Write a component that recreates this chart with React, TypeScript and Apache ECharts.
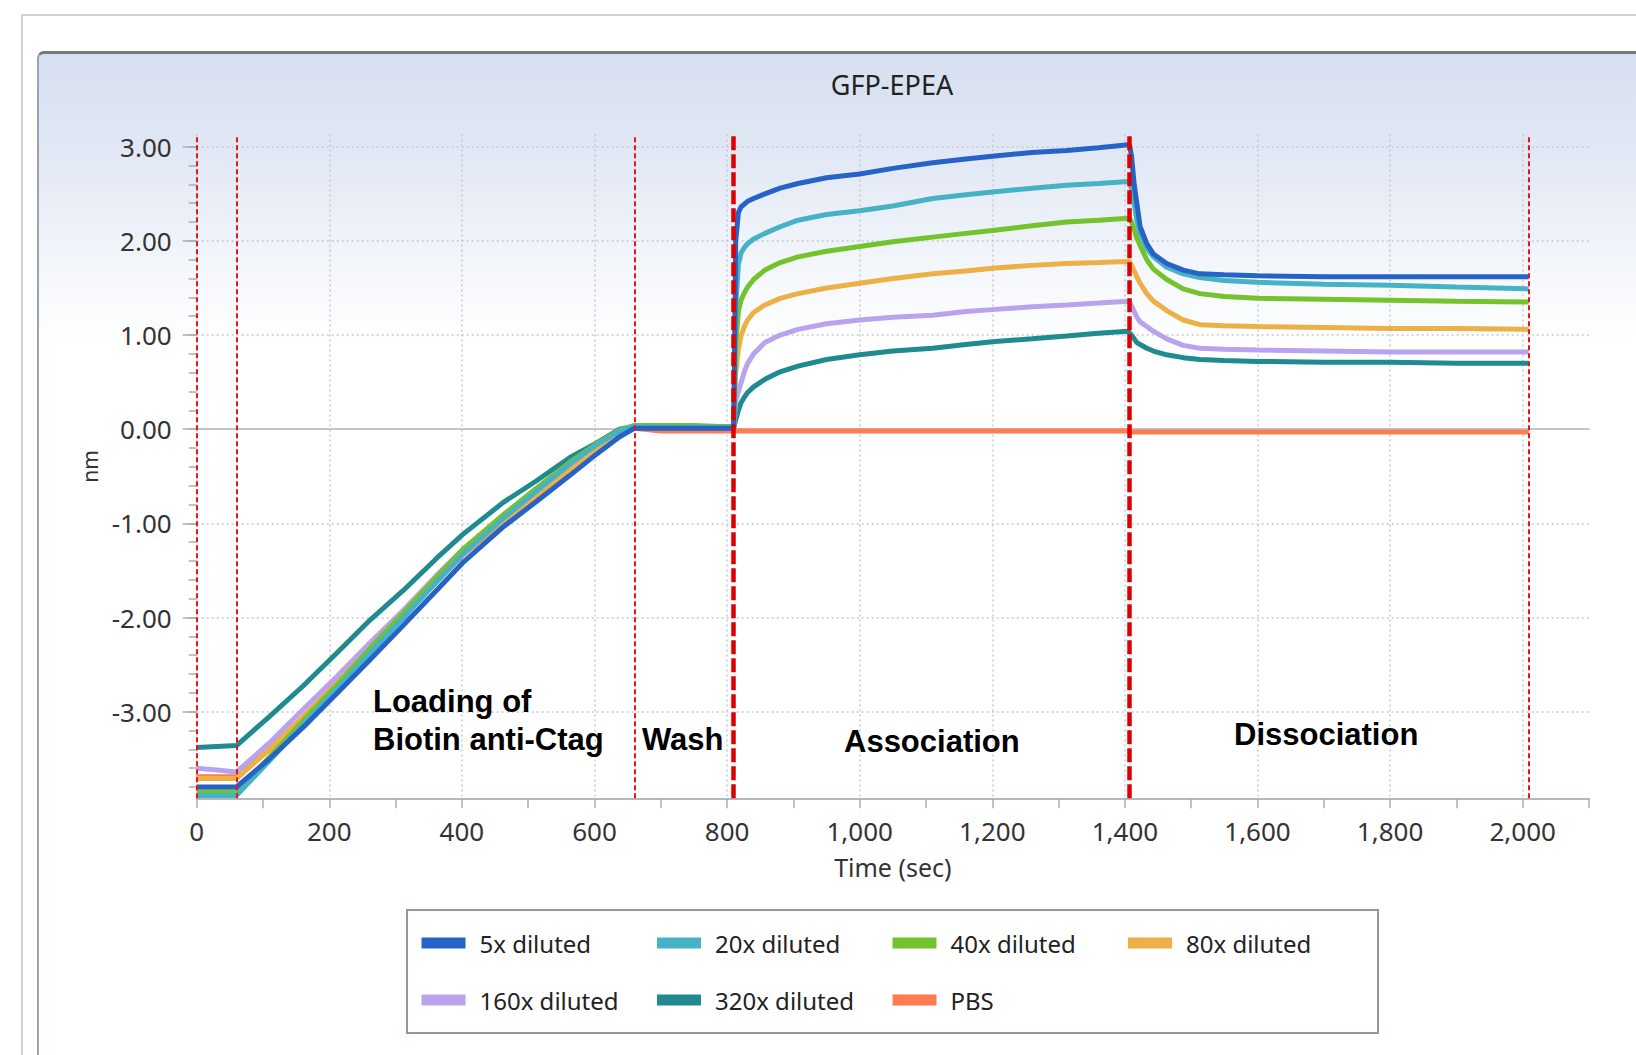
import React, { useEffect, useRef } from 'react';
import * as echarts from 'echarts';

// ---- Data ----
const seriesNames = ['5x diluted', '20x diluted', '40x diluted', '80x diluted', '160x diluted', '320x diluted', 'PBS'];
const seriesColors = ['#2563c6', '#46b2c6', '#74c32d', '#ecb046', '#b9a3ee', '#1f8a8f', '#ff7b52'];

// time (sec) sample points shared by every trace
const times = [
  0, 30, 60,
  110, 160, 211, 261, 312, 362, 401, 462, 512, 563, 602, 638, 660,
  700, 750, 790,
  810, 813, 817, 821, 826, 831, 840, 857, 880, 907, 950, 1000, 1050, 1110, 1160, 1200, 1260, 1312, 1360, 1405,
  1407, 1410, 1414, 1418, 1423, 1433, 1443, 1463, 1488, 1513, 1550, 1600, 1700, 1800, 1900, 2009,
];

const dil5x = [
  -3.80, -3.80, -3.80,
  -3.50, -3.17, -2.81, -2.45, -2.08, -1.71, -1.42, -1.04, -0.77, -0.49, -0.27, -0.08, 0.01,
  0.01, 0.01, 0.01,
  0.01, 2.00, 2.30, 2.36, 2.39, 2.42, 2.45, 2.50, 2.56, 2.61, 2.67, 2.71, 2.77, 2.83, 2.87, 2.90, 2.94, 2.96, 2.99, 3.02,
  3.02, 2.90, 2.60, 2.40, 2.15, 1.97, 1.86, 1.76, 1.69, 1.65, 1.64, 1.63, 1.62, 1.62, 1.62, 1.62,
];
const dil20x = [
  -3.89, -3.89, -3.89,
  -3.52, -3.14, -2.76, -2.38, -2.00, -1.62, -1.33, -0.95, -0.66, -0.37, -0.17, -0.02, 0.03,
  0.02, 0.02, 0.02,
  0.02, 1.30, 1.75, 1.87, 1.93, 1.97, 2.02, 2.08, 2.15, 2.22, 2.28, 2.32, 2.37, 2.45, 2.49, 2.52, 2.56, 2.59, 2.61, 2.63,
  2.63, 2.55, 2.40, 2.22, 2.08, 1.92, 1.83, 1.72, 1.65, 1.61, 1.58, 1.56, 1.54, 1.53, 1.51, 1.49,
];
const dil40x = [
  -3.85, -3.85, -3.85,
  -3.48, -3.10, -2.72, -2.33, -1.95, -1.57, -1.28, -0.91, -0.63, -0.35, -0.16, -0.01, 0.04,
  0.04, 0.04, 0.03,
  0.03, 0.90, 1.25, 1.37, 1.45, 1.51, 1.59, 1.69, 1.77, 1.83, 1.89, 1.94, 1.99, 2.04, 2.08, 2.11, 2.16, 2.20, 2.22, 2.24,
  2.24, 2.20, 2.12, 2.03, 1.95, 1.80, 1.70, 1.59, 1.49, 1.44, 1.41, 1.39, 1.38, 1.37, 1.36, 1.35,
];
const dil80x = [
  -3.71, -3.71, -3.71,
  -3.40, -3.06, -2.70, -2.34, -1.98, -1.61, -1.33, -0.97, -0.70, -0.43, -0.22, -0.04, 0.02,
  0.02, 0.02, 0.02,
  0.02, 0.60, 0.85, 0.99, 1.09, 1.16, 1.24, 1.32, 1.39, 1.44, 1.50, 1.55, 1.60, 1.65, 1.68, 1.71, 1.74, 1.76, 1.77, 1.78,
  1.78, 1.74, 1.68, 1.62, 1.55, 1.44, 1.36, 1.26, 1.16, 1.11, 1.10, 1.09, 1.08, 1.07, 1.07, 1.06,
];
const dil160x = [
  -3.60, -3.62, -3.64,
  -3.33, -2.98, -2.63, -2.27, -1.92, -1.55, -1.28, -0.93, -0.66, -0.40, -0.20, -0.03, 0.02,
  0.02, 0.02, 0.02,
  0.02, 0.30, 0.40, 0.49, 0.61, 0.70, 0.80, 0.92, 1.00, 1.06, 1.12, 1.16, 1.19, 1.21, 1.25, 1.27, 1.30, 1.32, 1.34, 1.36,
  1.35, 1.31, 1.25, 1.19, 1.14, 1.09, 1.04, 0.96, 0.89, 0.86, 0.85, 0.84, 0.83, 0.82, 0.82, 0.82,
];
const dil320x = [
  -3.38, -3.37, -3.36,
  -3.05, -2.73, -2.38, -2.03, -1.71, -1.37, -1.12, -0.78, -0.55, -0.30, -0.15, 0.00, 0.03,
  0.02, 0.02, 0.02,
  0.02, 0.10, 0.20, 0.28, 0.34, 0.39, 0.45, 0.53, 0.61, 0.67, 0.74, 0.79, 0.83, 0.86, 0.90, 0.93, 0.96, 0.99, 1.02, 1.04,
  1.02, 1.00, 0.96, 0.92, 0.90, 0.86, 0.83, 0.79, 0.76, 0.74, 0.73, 0.72, 0.71, 0.71, 0.70, 0.70,
];
const pbs = [
  -3.69, -3.69, -3.69,
  -3.40, -3.06, -2.70, -2.34, -1.98, -1.62, -1.34, -0.98, -0.71, -0.44, -0.23, -0.05, 0.01,
  -0.02, -0.02, -0.02,
  -0.02, -0.02, -0.02, -0.02, -0.02, -0.02, -0.02, -0.02, -0.02, -0.02, -0.02, -0.02, -0.02, -0.02, -0.02, -0.02, -0.02, -0.02, -0.02, -0.02,
  -0.03, -0.03, -0.03, -0.03, -0.03, -0.03, -0.03, -0.03, -0.03, -0.03, -0.03, -0.03, -0.03, -0.03, -0.03, -0.03,
];
const seriesValues = [dil5x, dil20x, dil40x, dil80x, dil160x, dil320x, pbs];

// phase boundaries (sec); the two bold ones mark association start / end
const phaseBoundaries = [0, 60, 660, 810, 1407, 2009];
const boldBoundaries = [810, 1407];
const phaseLabels = ['Loading of', 'Biotin anti-Ctag', 'Wash', 'Association', 'Dissociation'];

// axes
const xMin = 0;
const xMax = 2100;
const xTickStep = 100;
const xLabelStep = 200;
const yMin = -3.92;
const yMax = 3.13;
const yMajorTicks = [-3, -2, -1, 0, 1, 2, 3];
const yMinorStep = 0.2;
const xGridTicks = [0, 200, 400, 600, 800, 1000, 1200, 1400, 1600, 1800, 2000];

const chartTitle = 'GFP-EPEA';
const xName = 'Time (sec)';
const yName = 'nm';

const W = 1636;
const H = 1055;

export default function App() {
  const ref = useRef<HTMLDivElement>(null);

  useEffect(() => {
    if (!ref.current) return;
    const chart = echarts.init(ref.current, null, { renderer: 'svg', width: W, height: H });

    const minorTicks: number[] = [];
    for (let v = -3.8; v <= 3.0001; v += yMinorStep) minorTicks.push(Math.round(v * 10) / 10);

    const labelFont = 'Noto Sans';
    const gridDot = { color: '#c5cad1', type: [2, 3] as any, width: 1.5 };

    // draw order: PBS first, 5x last (on top)
    const order = [6, 5, 4, 3, 2, 1, 0];
    const dataSeries = order.map((i) => ({
      type: 'line',
      name: seriesNames[i],
      data: times.map((t, k) => [t, seriesValues[i][k]]),
      showSymbol: false,
      symbol: 'none',
      color: seriesColors[i],
      lineStyle: { width: 5, color: seriesColors[i] },
      silent: true,
      z: 3,
      clip: true,
    }));

    const phaseSeries = {
      type: 'line',
      name: 'phases',
      data: [],
      silent: true,
      z: 10,
      markLine: {
        silent: true,
        symbol: ['none', 'none'],
        label: { show: false },
        emphasis: { disabled: true },
        data: phaseBoundaries.map((t) => {
          const bold = boldBoundaries.includes(t);
          return {
            xAxis: t,
            lineStyle: bold
              ? { color: '#dd0000', width: 4.5, type: [14, 4] }
              : { color: '#e8141c', width: 2, type: [5, 3] },
          };
        }),
      },
    };

    const boldFont = 'bold 31px "Liberation Sans", Arial, sans-serif';
    const mkText = (text: string, x: number, y: number, font: string, align = 'left', fill = '#000') => ({
      type: 'text',
      x,
      y,
      z: 50,
      silent: true,
      style: {
        text,
        font,
        fill,
        align,
        textAlign: align,
        verticalAlign: 'middle',
        textVerticalAlign: 'middle',
      },
    });

    const option: any = {
      animation: false,
      backgroundColor: 'transparent',
      grid: {
        left: 196.7,
        top: 134.5,
        right: 47,
        bottom: 256.7,
        containLabel: false,
        outerBoundsMode: 'none',
      },
      xAxis: [
        {
          type: 'value',
          min: xMin,
          max: xMax,
          interval: xTickStep,
          name: xName,
          nameLocation: 'middle',
          nameGap: 56,
          nameTextStyle: { fontFamily: labelFont, fontSize: 25, color: '#333' },
          axisLine: { show: true, onZero: false, lineStyle: { color: '#b4b9c0', width: 2 } },
          axisTick: { show: true, length: 10, lineStyle: { color: '#a9aeb5', width: 1.5 } },
          axisLabel: {
            margin: 20,
            fontFamily: labelFont,
            fontSize: 26,
            color: '#333',
            formatter: (v: number) =>
              v % xLabelStep === 0 && v <= 2000 ? v.toLocaleString('en-US') : '',
          },
          splitLine: { show: false },
        },
        {
          type: 'value',
          min: xMin,
          max: xMax,
          interval: xLabelStep,
          axisLine: { show: true, onZero: true, lineStyle: { color: '#c2c6cc', width: 2 } },
          axisTick: { show: false, customValues: xGridTicks },
          axisLabel: { show: false, customValues: xGridTicks },
          splitLine: { show: true, lineStyle: gridDot },
        },
      ],
      yAxis: [
        {
          type: 'value',
          position: 'left',
          min: yMin,
          max: yMax,
          name: yName,
          nameLocation: 'middle',
          nameRotate: 90,
          nameGap: 95,
          nameTextStyle: { fontFamily: labelFont, fontSize: 21, color: '#333' },
          axisLine: { show: false, onZero: false },
          axisTick: { show: true, length: 14, customValues: yMajorTicks, lineStyle: { color: '#a9aeb5', width: 1.5 } },
          axisLabel: {
            customValues: yMajorTicks,
            margin: 25,
            fontFamily: labelFont,
            fontSize: 26,
            color: '#333',
            formatter: (v: number) => v.toFixed(2),
          },
          splitLine: { show: true, lineStyle: gridDot },
        },
        {
          type: 'value',
          position: 'left',
          offset: 0,
          min: yMin,
          max: yMax,
          axisLine: { show: false, onZero: false },
          axisTick: { show: true, length: 8, customValues: minorTicks, lineStyle: { color: '#a9aeb5', width: 1.5 } },
          axisLabel: { show: false },
          splitLine: { show: false },
        },
      ],
      legend: {
        data: seriesNames,
        left: 407,
        top: 910,
        width: 1000,
        orient: 'horizontal',
        icon: 'rect',
        itemWidth: 44,
        itemHeight: 11,
        itemGap: 20,
        padding: [14.5, 34.5, 14.5, 14.5],
        backgroundColor: '#ffffff',
        borderColor: '#8f9aa7',
        borderWidth: 2,
        selectedMode: false,
        textStyle: {
          fontFamily: labelFont,
          fontSize: 24,
          color: '#222',
          width: 157.5,
          lineHeight: 37,
          padding: [0, 0, 0, 9],
        },
      },
      graphic: [
        mkText(chartTitle, 892, 84, '27px "Noto Sans"', 'center', '#222'),
        mkText(phaseLabels[0], 373, 701, boldFont),
        mkText(phaseLabels[1], 373, 739, boldFont),
        mkText(phaseLabels[2], 642, 739, boldFont),
        mkText(phaseLabels[3], 844, 741, boldFont),
        mkText(phaseLabels[4], 1234, 734, boldFont),
      ],
      series: [...dataSeries, phaseSeries],
    };

    chart.setOption(option);
    return () => chart.dispose();
  }, []);

  return (
    <div style={{ position: 'fixed', left: 0, top: 0, width: W, height: H, background: '#fff', overflow: 'hidden' }}>
      <div
        style={{
          position: 'absolute',
          left: 21,
          top: 14,
          width: 1700,
          height: 1100,
          borderTop: '2px solid #d2d2d2',
          borderLeft: '2px solid #d2d2d2',
          boxSizing: 'border-box',
        }}
      />
      <div
        style={{
          position: 'absolute',
          left: 37,
          top: 51,
          width: 1700,
          height: 1100,
          borderTop: '3px solid #6e7a86',
          borderLeft: '2px solid #9aa4ae',
          borderTopLeftRadius: 7,
          boxSizing: 'border-box',
          background: 'linear-gradient(to bottom, #d6dff0 0px, #e3e9f5 110px, #f3f6fb 210px, #ffffff 290px)',
        }}
      />
      <div ref={ref} style={{ position: 'absolute', left: 0, top: 0, width: W, height: H }} />
    </div>
  );
}
